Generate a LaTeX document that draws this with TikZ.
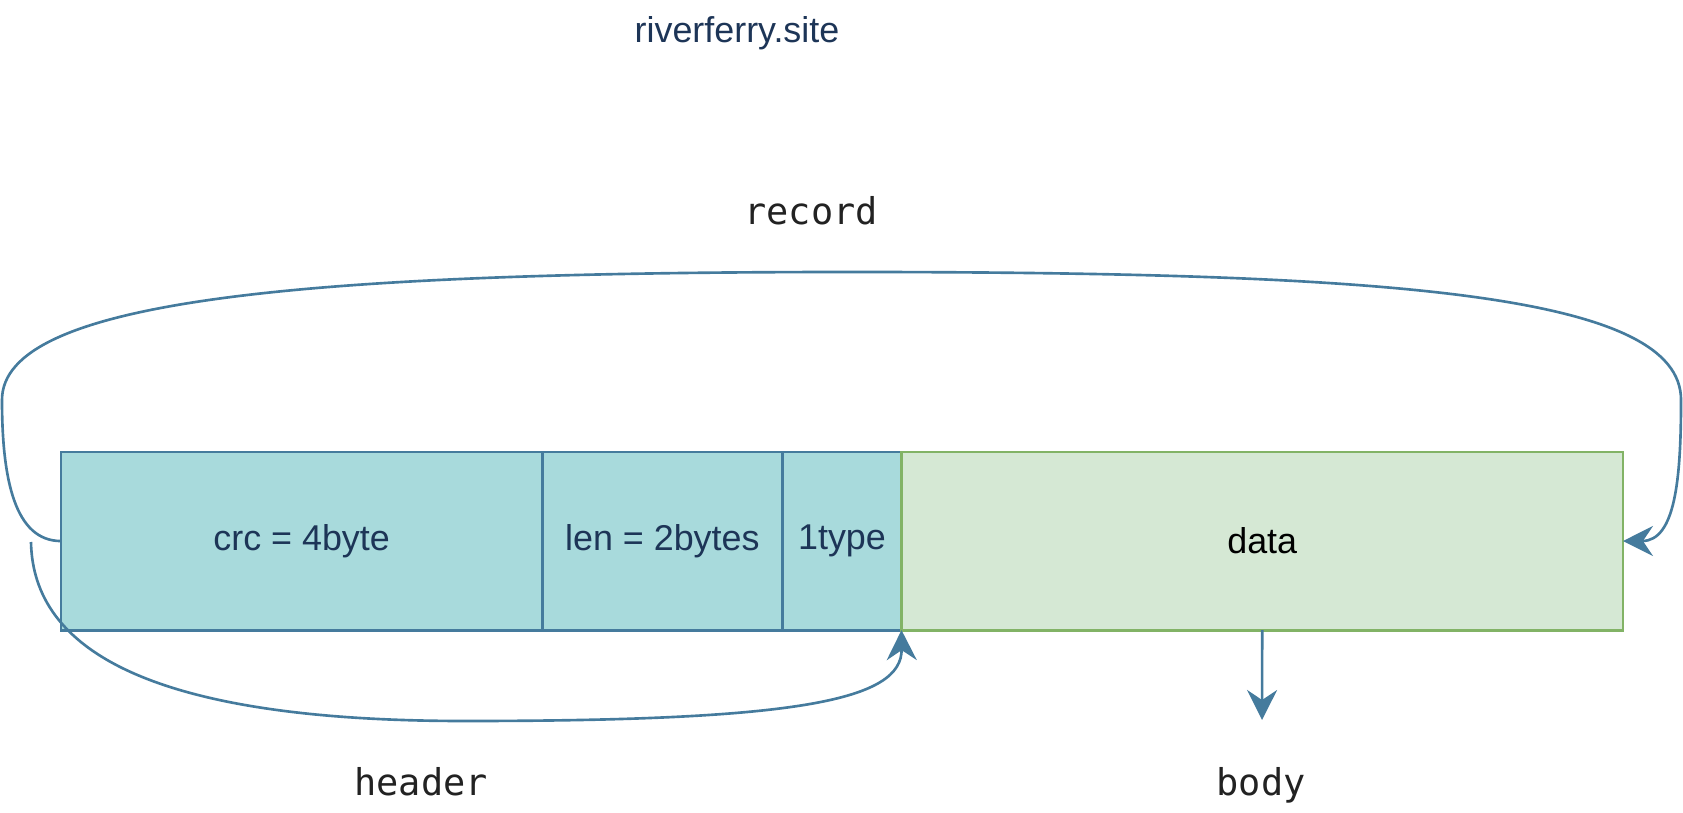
\documentclass[tikz,border=0pt]{standalone}
\usepackage{fontspec}
\setmainfont{Liberation Sans}
\setmonofont{DejaVu Sans Mono}
\usepackage{tikz}
\usetikzlibrary{positioning,arrows.meta}

\definecolor{hdrfill}{HTML}{A8DADC}
\definecolor{hdrline}{HTML}{457B9D}
\definecolor{hdrtext}{HTML}{1D3557}
\definecolor{bodyfill}{HTML}{D5E8D4}
\definecolor{bodyline}{HTML}{82B366}
\definecolor{monotext}{HTML}{222222}

\tikzset{
  field/.style={draw=hdrline, fill=hdrfill, text=hdrtext, line width=0.8pt,
    minimum height=1.78cm, inner sep=0pt, outer sep=0pt,
    font=\fontsize{10.2}{12}\selectfont},
  payload/.style={field, draw=bodyline, fill=bodyfill, text=black},
  link/.style={draw=hdrline, line width=0.75pt,
    -{Stealth[length=3mm, width=3mm, inset=1mm]}},
  tag/.style={font=\fontsize{10.5}{12}\ttfamily, text=monotext, anchor=base}
}

\begin{document}
\begin{tikzpicture}[x=0.01cm, y=-0.01cm]
  \useasboundingbox (0,0) rectangle (1683,813);
  \node[text=hdrtext, font=\fontsize{10.2}{12}\selectfont] (site) at (737,33) {riverferry.site};
  \node[field, minimum width=4.81cm, anchor=north west] (crc) at (61,452) {crc = 4byte};
  \node[field, minimum width=2.40cm, right=0pt of crc] (len) {len = 2bytes};
  \node[field, minimum width=1.19cm, right=0pt of len] (type) {1type};
  \node[payload, minimum width=7.21cm, right=0pt of type] (data) {data};
  \node[tag] (record) at (811,225) {record};
  \node[tag] (header) at (421,795) {header};
  \node[tag] (body) at (1261,795) {body};
  \coordinate (hstart) at (31,542);
  \coordinate (bend) at (1262,720);

  % record spans the whole row
  \draw[link] (crc.west) .. controls (15,541) and (2,480) .. (2,400)
    .. controls (2,300) and (300,272) .. (850,272)
    .. controls (1400,272) and (1681,295) .. (1681,400)
    .. controls (1681,480) and (1675,541) .. (data.east);
  % header covers crc, len and type
  \draw[link] (hstart) .. controls (33,650) and (150,721) .. (465,721)
    .. controls (800,721) and (902,700) .. (type.south east);
  \draw[link] (data.south) -- (bend);
\end{tikzpicture}
\end{document}
